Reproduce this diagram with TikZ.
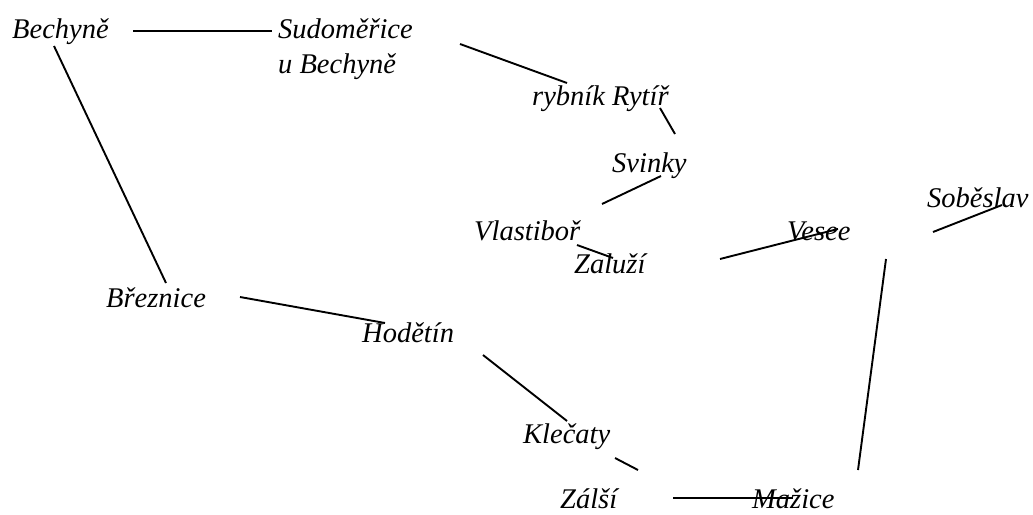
\documentclass[tikz,border=0pt]{standalone}
\usepackage{fontspec}
\setmainfont{Liberation Serif}
\begin{document}
\begin{tikzpicture}[x=1pt,y=-1pt,
  lbl/.style={anchor=base west,inner sep=0pt,font=\fontsize{28.5}{35}\selectfont\itshape},
  edge/.style={line width=1.9pt}]
\useasboundingbox (0,0) rectangle (1033,514);
\node[lbl] (bech) at (12,38) {Bechyně};
\node[lbl,align=left] (sudo) at (278,73) {Sudoměřice\\u Bechyně};
\node[lbl] (ryb) at (532,105) {rybník Rytíř};
\node[lbl] (svin) at (612,172) {Svinky};
\node[lbl] (vlas) at (474,240) {Vlastiboř};
\node[lbl] (zalu) at (574,273) {Zaluží};
\node[lbl] (vese) at (787,240) {Vesee};
\node[lbl] (sobe) at (927,207) {Soběslav};
\node[lbl] (brez) at (106,307) {Březnice};
\node[lbl] (hode) at (362,342) {Hodětín};
\node[lbl] (klec) at (523,443) {Klečaty};
\node[lbl] (zals) at (560,508) {Zálší};
\node[lbl] (mazi) at (752,508) {Mažice};
% connector end points
\coordinate (a1) at (133,31);  \coordinate (a2) at (272,31);
\coordinate (b1) at (54,46);   \coordinate (b2) at (166,283);
\coordinate (c1) at (460,44);  \coordinate (c2) at (567,83);
\coordinate (d1) at (660,108); \coordinate (d2) at (675,134);
\coordinate (e1) at (661,176); \coordinate (e2) at (602,204);
\coordinate (f1) at (577,245); \coordinate (f2) at (613,258);
\coordinate (g1) at (720,259); \coordinate (g2) at (838,229);
\coordinate (h1) at (933,232); \coordinate (h2) at (1002,205);
\coordinate (i1) at (886,259); \coordinate (i2) at (858,470);
\coordinate (j1) at (240,297); \coordinate (j2) at (385,323);
\coordinate (k1) at (483,355); \coordinate (k2) at (567,421);
\coordinate (l1) at (615,458); \coordinate (l2) at (638,470);
\coordinate (m1) at (673,498); \coordinate (m2) at (793,498);
\draw[edge] (a1) -- (a2);
\draw[edge] (b1) -- (b2);
\draw[edge] (c1) -- (c2);
\draw[edge] (d1) -- (d2);
\draw[edge] (e1) -- (e2);
\draw[edge] (f1) -- (f2);
\draw[edge] (g1) -- (g2);
\draw[edge] (h1) -- (h2);
\draw[edge] (i1) -- (i2);
\draw[edge] (j1) -- (j2);
\draw[edge] (k1) -- (k2);
\draw[edge] (l1) -- (l2);
\draw[edge] (m1) -- (m2);
\end{tikzpicture}
\end{document}
